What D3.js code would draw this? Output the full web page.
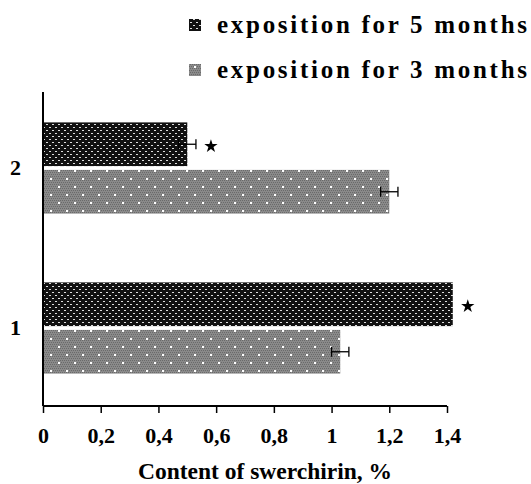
<!DOCTYPE html>
<html>
<head>
<meta charset="utf-8">
<script src="https://cdn.jsdelivr.net/npm/d3@7"></script>
<style>
  body { margin: 0; background: #fff; }
  text { font-family: "Liberation Serif", "Times New Roman", serif; font-weight: bold; }
</style>
</head>
<body>
<div id="chart"></div>
<script>
// data
const categories = ["2", "1"];
const seriesNames = ["exposition for 5 months", "exposition for 3 months"];
const values5 = [0.5, 1.42];
const values3 = [1.2, 1.03];
const errors5 = [0.03, 0];
const errors3 = [0.03, 0.03];
const significant5 = [true, true];
const xTicks = [0, 0.2, 0.4, 0.6, 0.8, 1, 1.2, 1.4];

function main() {
  const W = 531, H = 484;
  const svg = d3.select("#chart").append("svg")
      .attr("width", W)
      .attr("height", H);

  // patterns
  const defs = svg.append("defs");
  const pDark = defs.append("pattern")
      .attr("id", "pDark")
      .attr("patternUnits", "userSpaceOnUse")
      .attr("width", 6).attr("height", 6);
  pDark.append("rect").attr("width", 6).attr("height", 6).attr("fill", "#111");
  pDark.append("rect").attr("x", 1).attr("y", 1).attr("width", 2).attr("height", 1).attr("fill", "#ddd");
  pDark.append("rect").attr("x", 4).attr("y", 4).attr("width", 2).attr("height", 1).attr("fill", "#ddd");

  const pGray = defs.append("pattern")
      .attr("id", "pGray")
      .attr("patternUnits", "userSpaceOnUse")
      .attr("width", 16).attr("height", 16);
  pGray.append("rect").attr("width", 16).attr("height", 16).attr("fill", "#8a8a8a");
  for (let i = 0; i < 16; i += 2) {
    for (let j = 0; j < 16; j += 2) {
      pGray.append("rect").attr("x", i + (j % 4 ? 1 : 0)).attr("y", j).attr("width", 1).attr("height", 1).attr("fill", "#6a6a6a");
    }
  }
  pGray.append("rect").attr("x", 2).attr("y", 2).attr("width", 2).attr("height", 2).attr("fill", "#fff");
  pGray.append("rect").attr("x", 10).attr("y", 10).attr("width", 2).attr("height", 2).attr("fill", "#fff");

  const fills = ["url(#pDark)", "url(#pGray)"];

  // scales
  const x = d3.scaleLinear().domain([0, 1.4]).range([43, 447]);
  const y0 = d3.scaleBand().domain(categories).range([88, 408])
      .paddingInner(0.43).paddingOuter(0.215);
  const y1 = d3.scaleBand().domain([0, 1]).range([0, y0.bandwidth()]).paddingInner(0.08);

  const rows = [];
  categories.forEach((c, i) => {
    rows.push({cat: c, s: 0, v: values5[i], e: errors5[i], star: significant5[i]});
    rows.push({cat: c, s: 1, v: values3[i], e: errors3[i], star: false});
  });

  // bars
  svg.append("g").selectAll("rect")
    .data(rows)
    .join("rect")
      .attr("x", x(0))
      .attr("y", d => y0(d.cat) + y1(d.s))
      .attr("width", d => x(d.v) - x(0))
      .attr("height", y1.bandwidth())
      .attr("fill", d => fills[d.s]);

  // error bars
  const eb = svg.append("g").attr("stroke", "#000").attr("stroke-width", 1.3);
  rows.filter(d => d.e > 0).forEach(d => {
    const cy = y0(d.cat) + y1(d.s) + y1.bandwidth() / 2;
    eb.append("line").attr("x1", x(d.v - d.e)).attr("x2", x(d.v + d.e)).attr("y1", cy).attr("y2", cy);
    eb.append("line").attr("x1", x(d.v - d.e)).attr("x2", x(d.v - d.e)).attr("y1", cy - 5).attr("y2", cy + 5);
    eb.append("line").attr("x1", x(d.v + d.e)).attr("x2", x(d.v + d.e)).attr("y1", cy - 5).attr("y2", cy + 5);
  });

  // significance stars
  svg.append("g").selectAll("path")
    .data(rows.filter(d => d.star))
    .join("path")
      .attr("transform", d => `translate(${x(d.v + d.e) + 15},${y0(d.cat) + y1(d.s) + y1.bandwidth() / 2 + 2})`)
      .attr("d", d3.symbol(d3.symbolStar, 55))
      .attr("fill", "#000");

  // x axis
  const xAxis = svg.append("g")
      .attr("transform", "translate(0,406)")
      .call(d3.axisBottom(x).tickValues(xTicks).tickSize(7).tickPadding(14)
        .tickFormat(d => String(d).replace(".", ",")));
  xAxis.select(".domain").attr("stroke-width", 2).attr("d", "M43,0H447");
  xAxis.selectAll(".tick line").attr("stroke-width", 1.5);
  xAxis.selectAll(".tick text")
      .attr("font-family", "Liberation Serif, serif")
      .attr("font-size", 22)
      .attr("font-weight", "bold")
      .attr("fill", "#000");

  // y axis
  const yAxis = svg.append("g")
      .attr("transform", "translate(43,0)")
      .call(d3.axisLeft(y0).tickSize(0).tickPadding(22));
  yAxis.select(".domain").attr("stroke-width", 2).attr("d", "M0,92V406");
  yAxis.selectAll(".tick text")
      .attr("font-family", "Liberation Serif, serif")
      .attr("font-size", 22)
      .attr("font-weight", "bold")
      .attr("fill", "#000");

  // axis title
  svg.append("text")
      .attr("x", 265)
      .attr("y", 479)
      .attr("text-anchor", "middle")
      .attr("font-size", 23.5)
      .text("Content of swerchirin, %");

  // legend
  const leg = svg.append("g");
  seriesNames.forEach((name, i) => {
    const ly = 25 + i * 45;
    leg.append("rect")
        .attr("x", 189).attr("y", ly - 6)
        .attr("width", 12).attr("height", 12)
        .attr("fill", fills[i]);
    leg.append("text")
        .attr("x", 217)
        .attr("y", ly + 8)
        .attr("font-size", 25)
        .attr("textLength", 310)
        .attr("lengthAdjust", "spacing")
        .text(name);
  });
}

main();
</script>
</body>
</html>
